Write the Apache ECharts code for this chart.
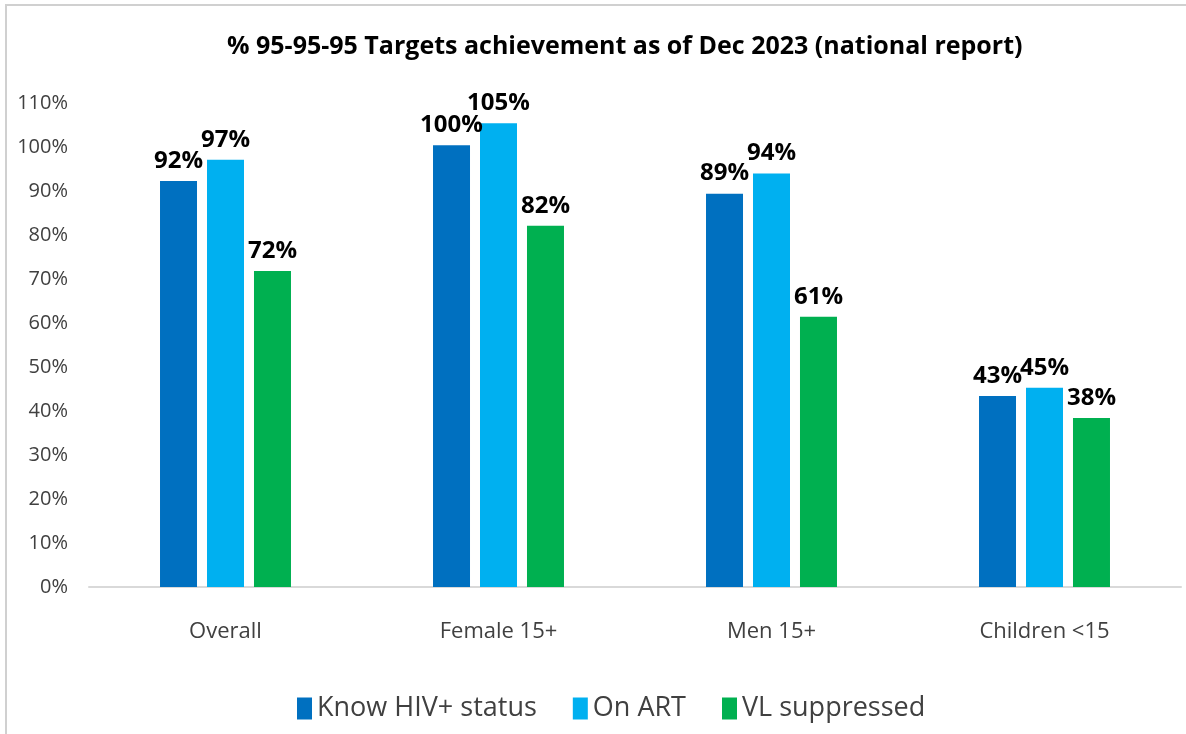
<!DOCTYPE html>
<html>
<head>
<meta charset="utf-8">
<script src="https://cdn.jsdelivr.net/npm/echarts@6/dist/echarts.min.js"></script>
<style>
  html, body { margin: 0; padding: 0; background: #fff; }
  #chart { width: 1186px; height: 734px; }
</style>
</head>
<body>
<div id="chart"></div>
<script>
var categories = ['Overall', 'Female 15+', 'Men 15+', 'Children <15'];
var knowStatus = [92.3, 100.4, 89.4, 43.4];
var onArt = [97.1, 105.4, 94.0, 45.3];
var vlSuppressed = [71.8, 82.1, 61.4, 38.4];
var seriesNames = ['Know HIV+ status', 'On ART', 'VL suppressed'];
var colors = ['#0070C0', '#00B0F0', '#00B050'];

var font = '"Open Sans", sans-serif';

var myChart = echarts.init(document.getElementById('chart'));

function makeSeries(name, data, color) {
  return {
    name: name,
    type: 'bar',
    data: data,
    barWidth: 37,
    barGap: '27%',
    itemStyle: { color: color },
    label: {
      show: true,
      position: 'top',
      distance: 8,
      color: '#000',
      fontFamily: font,
      fontWeight: 'bold',
      fontSize: 24,
      formatter: function (p) { return Math.round(p.value) + '%'; }
    }
  };
}

var option = {
  backgroundColor: '#fff',
  color: colors,
  graphic: [
    {
      type: 'rect',
      shape: { x: 6, y: 5, width: 1300, height: 900 },
      style: { fill: 'none', stroke: '#d0d0d0', lineWidth: 2 },
      silent: true
    }
  ],
  title: {
    text: '% 95-95-95 Targets achievement as of Dec 2023 (national report)',
    left: 222,
    top: 29,
    textStyle: {
      fontFamily: font,
      fontWeight: 'bold',
      fontSize: 25,
      color: '#000'
    }
  },
  legend: {
    data: seriesNames,
    bottom: 7,
    left: 292,
    itemWidth: 15,
    itemHeight: 22,
    itemGap: 36,
    icon: 'rect',
    textStyle: {
      fontFamily: font,
      fontSize: 27,
      color: '#404040'
    }
  },
  grid: {
    left: 89,
    right: 5,
    top: 103,
    bottom: 147,
    containLabel: false
  },
  xAxis: {
    type: 'category',
    data: categories,
    axisLine: { lineStyle: { color: '#d9d9d9', width: 2 } },
    axisTick: { show: false },
    axisLabel: {
      margin: 34,
      fontFamily: font,
      fontSize: 22,
      color: '#404040'
    }
  },
  yAxis: {
    type: 'value',
    min: 0,
    max: 110,
    interval: 10,
    splitLine: { show: false },
    axisLine: { show: false },
    axisTick: { show: false },
    axisLabel: {
      margin: 21,
      fontFamily: font,
      fontSize: 20,
      color: '#404040',
      formatter: '{value}%'
    }
  },
  series: [
    makeSeries(seriesNames[0], knowStatus, colors[0]),
    makeSeries(seriesNames[1], onArt, colors[1]),
    makeSeries(seriesNames[2], vlSuppressed, colors[2])
  ]
};

myChart.setOption(option);
</script>
</body>
</html>
